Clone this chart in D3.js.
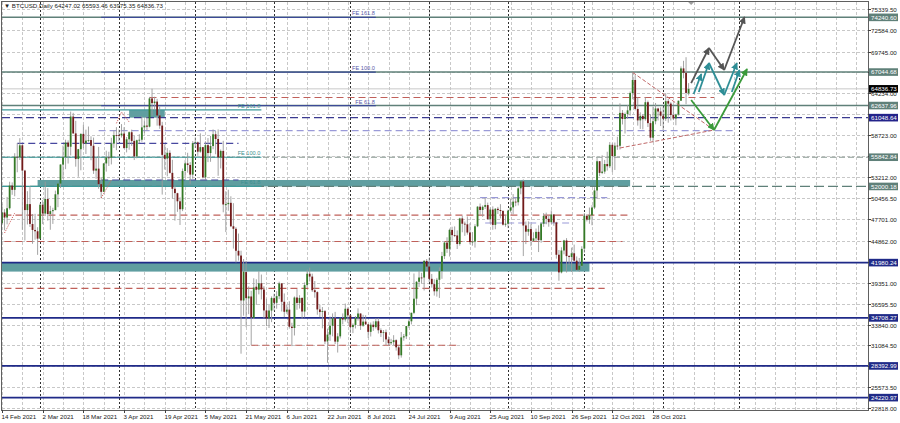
<!DOCTYPE html>
<html><head><meta charset="utf-8">
<script src="https://cdn.jsdelivr.net/npm/d3@7"></script>
<style>
html,body{margin:0;padding:0;background:#fff;}
svg{display:block;font-family:"Liberation Sans",Arial,sans-serif;}
</style></head><body>
<svg id="chart" width="900" height="423"></svg>
<script>
// ---------------- DATA ----------------
const symbolTitle = "BTCUSD,Daily";
const firstDay = "2021-02-14";   // one candle per calendar day
const opens = [
47168,48577,47911,49134,52119,51553,55906,55842,57412,54087,48891,49677,47057,46277,46104,
45134,49596,48436,50349,48374,48747,48882,50959,52375,54874,55851,57773,57221,61188,58976,55605,56900,58912,57641,58030,58100,57351,54083,54342,52303,51293,55025,55817,55777,57635,58746,
58740,58720,58951,57052,58202,59130,57991,55954,58077,58142,59769,60002,59861,63575,62959,63158,61334,60006,56150,55664,56425,53787,51691,51110,50047,49004,54030,55033,54825,53555,
57697,57797,56578,57169,53200,57436,56393,57315,58867,58240,55816,56670,49537,49671,49845,46762,46426,43538,42909,37002,40736,37281,37527,34700,38807,38425,39266,38445,35690,34629,35678,
37293,36694,37568,39246,36829,35517,35796,33556,33380,37389,36677,37331,35546,39020,40516,40143,38349,38099,35820,35483,35600,31614,32510,33676,34664,31577,32283,34702,34494,35911,
35045,33502,33786,34668,35288,33690,34220,33863,32875,33815,33502,34259,33086,32729,32820,31874,31383,31520,31778,30839,29790,32144,32287,33635,34262,35381,37241,39456,40019,40018,42206,
41461,39850,39146,38207,39723,40862,42836,44614,43794,46280,45601,45553,44428,47793,47097,47019,45936,44686,44741,46763,49339,48905,49322,49546,47706,48960,46942,49058,48897,48767,46970,
47100,48810,49246,49999,49918,51756,52666,46868,46048,46395,44843,45173,46025,44941,47103,48121,47737,47300,48315,47261,43016,40694,43574,44895,42840,42717,43208,42236,41034,41565,
43820,48142,47634,48200,49224,51471,55316,53786,53955,54949,54659,57471,55997,57370,57347,61673,60875,61528,62006,64281,66002,62193,60689,61287,60853,63078,60329,58413,60575,62253,61859,
61300,60911,63220,62896,61396,60940,61470,63274,67525,66947,64247.02];
const highs = [
49700,49010,50620,52618,52530,56368,57700,58352,57508,54183,51374,52041,48370,48394,46640,
49790,50200,52640,51773,49448,49200,51450,52402,54895,57387,58150,58058,61844,61683,60633,56938,58982,60100,59468,59880,58589,58430,55830,57200,53230,55073,56700,56559,58400,59368,59800,
59487,60200,59791,58500,59243,59474,58650,58153,58869,61218,60699,61200,63777,64854,63800,63520,62506,60499,57526,57040,56757,55500,52130,51166,50567,54356,55460,56428,55200,57963,
58458,57911,58981,57200,57939,58360,58650,59500,59300,59500,56862,58000,51367,51570,50700,49800,46643,45800,43546,42451,42200,38850,38270,39920,39791,40841,40411,38874,37234,36400,37534,
37896,38225,39476,39289,37925,36480,36900,34068,37534,38491,37689,37429,39380,41064,41330,40528,39559,38200,36457,36137,35750,33298,34881,35298,35500,32700,34749,35297,36600,36100,
35057,33977,34945,35967,35293,35118,35059,33929,34100,34262,34666,34678,33340,33114,33185,32249,31955,32435,31899,31063,32858,32591,33650,34500,35398,40550,39542,40900,40640,42316,42448,
42599,40480,39780,39969,41350,43392,44700,45310,46454,46700,46743,46218,47886,48144,47372,48053,47160,46000,47033,49400,49757,49500,50500,49875,49226,49380,49156,49309,49666,48888,48246,
48950,50400,51000,50558,51900,52780,52920,47381,47400,47036,45970,46460,46880,47250,48500,48557,48150,48843,48372,47347,43639,44000,44978,45200,42972,43950,44350,42787,42590,44132,
48495,48360,49228,49536,51886,55750,55332,56100,55489,56561,57839,57680,57777,58532,62933,62050,61718,62695,64486,67000,66639,63733,61747,61500,63711,63293,61496,62499,62980,62359,62405,
62437,64270,63500,63086,62595,61560,63286,67789,68524,69000,65593.46];
const lows = [
47047,46222,47015,48947,50901,50710,53863,55477,46310,44892,47003,46675,44454,45000,43000,
45115,47047,48100,47500,46300,47070,48882,49275,51789,53005,54272,55013,56078,58963,54600,53271,54123,57023,56270,57820,55450,53650,53000,51700,50427,51280,53950,54691,54900,57072,56770,
57935,58431,56956,56478,56826,57333,55473,55700,57672,57874,59018,59369,59770,61301,62021,60000,59580,50931,54222,53329,53696,50400,47500,48658,46930,48753,53222,53813,52330,53013,
57052,56035,56435,53057,52900,55200,55241,56900,56235,53400,54370,48600,46000,48805,46650,43825,42001,42250,30000,35000,33488,35200,31111,34551,36419,37800,37134,34684,33633,33379,34153,
35666,35920,37170,35555,34800,35258,33300,31000,32396,35782,35936,34600,34757,38730,39506,38116,37365,35129,34803,33336,31251,28805,31683,32286,31275,30151,32000,33862,34225,34017,
32711,32699,33316,34357,33125,33532,33777,32077,32261,33004,33307,32658,32202,31550,31133,31020,31164,31108,30407,29278,29482,31708,31925,33401,33851,35205,36383,38772,39200,38313,41000,
39422,38690,37642,37508,37332,39853,42446,43261,42779,44742,45341,43770,44217,45971,45500,45660,44376,44203,43955,46644,48273,48000,49029,47600,47123,46300,46371,48371,47800,46853,46700,
46512,48585,48316,49400,49500,50969,42843,44412,45513,44132,44743,44742,43370,44594,46682,47021,46699,47087,46829,42500,39600,40565,43069,40675,41675,40750,42098,40888,40753,41410,
43283,47400,47088,46891,49022,50382,53357,53617,53661,54080,54415,53879,54167,56818,56850,60150,58963,60878,61322,63481,62000,60000,59562,59510,60650,59817,58000,57820,60174,60673,59945,
59405,60624,60382,60677,60721,60050,61322,63273,66222,62822,63975.35];
const closes = [
48588,47911,49133,52119,51552,55906,55841,57408,54088,48891,49676,47073,46276,46107,45135,
49587,48440,50349,48374,48751,48882,50971,52375,54884,55851,57773,57221,61188,58968,55605,56900,58913,57648,58030,58102,57351,54083,54340,52303,51293,55025,55817,55777,57635,58746,58740,
58720,58950,57052,58202,59130,57992,55954,58077,58142,59770,60007,59861,63576,62959,63159,61334,60006,56150,55633,56425,53788,51690,51125,50047,49004,54021,55033,54824,53555,57694,
57800,56578,57169,53200,57436,56393,57314,58862,58240,55816,56670,49631,49671,49841,46762,46431,43538,42909,37002,40782,37305,37537,34770,38706,38411,39266,38445,35690,34628,35678,37333,
36693,37568,39246,36829,35514,35796,33552,33380,37389,36675,37331,35546,39020,40516,40144,38349,38092,35819,35483,35600,31608,32509,33678,34663,31594,32283,34700,34494,35911,35045,
33504,33786,34669,35287,33690,34220,33862,32875,33815,33502,34259,33086,32729,32820,31880,31383,31520,31778,30839,29790,32144,32287,33634,34258,35381,37237,39457,40019,40016,42206,41461,
39845,39147,38207,39723,40862,42836,44614,43792,46285,45595,45553,44428,47793,47097,47019,45936,44686,44741,46762,49339,48905,49321,49546,47706,48960,46942,49058,48897,48767,46970,47100,
48810,49246,49999,49915,51756,52663,46863,46048,46395,44850,45173,46025,44941,47111,48121,47737,47300,48314,47261,43012,40693,43574,44896,42840,42717,43208,42236,41034,41564,43790,
48141,47634,48200,49225,51471,55315,53785,53951,54950,54659,57471,55996,57367,57347,61672,60875,61528,62009,64280,66001,62193,60688,61286,60852,63078,60328,58413,60575,62253,61859,61299,
60911,63219,62896,61395,60937,61470,63273,67525,66947,64300,64836.73];

// price axis tick labels (grid at all of them)
const priceTicks = [75339.50,72584.00,69745.00,66989.50,64234.00,61478.50,58723.00,55967.50,53212.00,50456.50,47701.00,44862.00,42106.50,39351.00,36595.50,33840.00,31084.50,28329.00,25573.50,22818.00];
// date axis labels
const dateTicks = ["2021-02-14","2021-03-02","2021-03-18","2021-04-03","2021-04-19","2021-05-05","2021-05-21","2021-06-06","2021-06-22","2021-07-08","2021-07-24","2021-08-09","2021-08-25","2021-09-10","2021-09-26","2021-10-12","2021-10-28"];
// month separators
const monthStarts = ["2021-03-01","2021-04-01","2021-05-01","2021-06-01","2021-07-01","2021-08-01","2021-09-01","2021-10-01","2021-11-01","2021-12-01"];

// horizontal levels (price)
const feLevels = [74240.60, 67044.68, 62637.96];
const feDashLevels = [55842.84, 52000.18];
const pivotLevel = 61048.64;
const supportLevels = [41980.24, 34708.27, 28392.99, 24220.97];
const bidPrice = 64836.73;

// fibo expansions
const fibo1Names = ["FE 161.8","FE 100.0","FE 61.8"];
const fibo1Prices = [74240.60, 67044.68, 62637.96];
const fibo1Range = ["2021-03-25","2021-07-11"];
const fibo2Names = ["FE 161.8","FE 100.0","FE 61.8"];
const fibo2Prices = [62059.5, 55842.84, 52000.18];
const fibo2Range = ["2021-01-20","2021-05-27"];

// zones
const zoneFrom = ["2021-02-28","2021-01-20","2021-04-05"];
const zoneTo   = ["2021-10-19","2021-10-03","2021-04-19"];
const zoneLow  = [52000.18, 40800, 61048.64];
const zoneHigh = [52850, 41980.24, 62059.5];

// short dashed levels
const redDashFrom  = ["2021-04-13","2021-01-20","2021-01-20","2021-01-20","2021-05-23"];
const redDashTo    = ["2021-11-21","2021-10-19","2021-10-16","2021-10-09","2021-08-12"];
const redDashPrice = [63700, 48240, 44760, 38600, 31111];
const blueDashFrom  = ["2021-03-24","2021-02-20","2021-03-25","2021-08-21","2021-08-23"];
const blueDashTo    = ["2021-11-29","2021-05-18","2021-05-18","2021-10-10","2021-09-25"];
const blueDashPrice = [59330, 57674, 52850, 50520, 47190];

// dotted wave marks (date, price)
const waveA = [["2021-02-15",45876],["2021-02-19",48507]];
const waveB = [["2021-03-25",50480],["2021-03-29",52847]];
const waveC = [["2021-03-31",60300],["2021-04-02",61792],["2021-04-05",60477]];

// triangle trend lines
const triUpper = [["2021-10-20",67000],["2021-11-21",59424]];
const triLower = [["2021-10-15",57056],["2021-11-21",59424]];

// projected paths
const greyPath  = [["2021-11-12",65600],["2021-11-19",70210],["2021-11-25",67316],["2021-12-03",74287]];
const tealPathA = [["2021-11-13",64159],["2021-11-16",66790]];
const tealPathB = [["2021-11-15",64420],["2021-11-19",68237],["2021-11-25",64028],["2021-11-30",68237]];
const tealPathC = [["2021-11-28",64420],["2021-12-01",67316]];
const greenPath = [["2021-11-12",63370],["2021-11-21",59424],["2021-12-04",67448]];

// ---------------- CHART ----------------
const W = 900, H = 423;
const L = 2, R = 868, T = 2, B = 410;
const svg = d3.select("#chart");
const parse = d3.utcParse("%Y-%m-%d");
const d0 = parse(firstDay);
const x = d3.scaleUtc().domain([d0, parse("2021-10-28")]).range([2, 653]);
const y = d3.scaleLinear().domain([22818, 75339.5]).range([408.3, 9]);

const candles = closes.map((c,i)=>({d:d3.utcDay.offset(d0,i), o:opens[i], h:highs[i], l:lows[i], c}));

svg.append("rect").attr("width",W).attr("height",H).attr("fill","#fff");
const defs = svg.append("defs");
defs.append("clipPath").attr("id","plot")
  .append("rect").attr("x",L).attr("y",T).attr("width",R-L).attr("height",B-T);
const g = svg.append("g").attr("clip-path","url(#plot)");

// grid
g.append("g").selectAll("line").data(priceTicks).join("line")
  .attr("x1",L).attr("x2",R).attr("y1",d=>Math.round(y(d))+.5).attr("y2",d=>Math.round(y(d))+.5)
  .attr("stroke","#c8c8c8").attr("stroke-dasharray","3,2");
const vgrid = d3.range(0, 400, 8).map(k=>d3.utcDay.offset(d0,k));
g.append("g").selectAll("line").data(vgrid).join("line")
  .attr("x1",d=>Math.round(x(d))+.5).attr("x2",d=>Math.round(x(d))+.5).attr("y1",T).attr("y2",B)
  .attr("stroke","#c8c8c8").attr("stroke-dasharray","3,2");
g.append("g").selectAll("line").data(monthStarts.map(parse)).join("line")
  .attr("x1",d=>Math.round(x(d))+.5).attr("x2",d=>Math.round(x(d))+.5).attr("y1",T).attr("y2",B)
  .attr("stroke","#303030").attr("stroke-dasharray","2,2");

// zones
g.append("g").selectAll("rect").data(zoneFrom.map((f,i)=>i)).join("rect")
  .attr("x",i=>x(parse(zoneFrom[i]))).attr("width",i=>x(parse(zoneTo[i]))-x(parse(zoneFrom[i])))
  .attr("y",i=>y(zoneHigh[i])).attr("height",i=>y(zoneLow[i])-y(zoneHigh[i]))
  .attr("fill","#5f9ea0");

const TEALGREY = "#5f8079", NAVY = "#1f2a88";
function hline(p, color, dash, w){
  g.append("line").attr("x1",L).attr("x2",R).attr("y1",y(p)).attr("y2",y(p))
   .attr("stroke",color).attr("stroke-width",w||1.3).attr("stroke-dasharray",dash||null);
}
feLevels.forEach(p=>hline(p,TEALGREY,null,1.5));
hline(feDashLevels[0],"#8a9a94","6,3",1.2);
hline(feDashLevels[1],TEALGREY,"10,4",1.2);
hline(pivotLevel,"#3a3a90","8,4",1.2);
supportLevels.forEach(p=>hline(p,NAVY,null,1.6));
hline(bidPrice,"#c8c8c8",null,1);

function seg(from,to,p,color,dash){
  g.append("line").attr("x1",x(parse(from))).attr("x2",x(parse(to))).attr("y1",y(p)).attr("y2",y(p))
   .attr("stroke",color).attr("stroke-width",1.2).attr("stroke-dasharray",dash);
}
redDashPrice.forEach((p,i)=>seg(redDashFrom[i],redDashTo[i],p,"#c0605a","7,4"));
blueDashPrice.forEach((p,i)=>seg(blueDashFrom[i],blueDashTo[i],p,i===1||i===2?"#4848a0":"#9a9ad8","7,4"));

function fibo(names, prices, range, color, textColor){
  const x1 = x(parse(range[0])), x2 = x(parse(range[1]));
  prices.forEach((p,i)=>{
    g.append("line").attr("x1",x1).attr("x2",x2).attr("y1",y(p)).attr("y2",y(p))
      .attr("stroke",color).attr("stroke-width",1.2);
    g.append("text").attr("x",x2-1).attr("y",y(p)-2).attr("text-anchor","end")
      .attr("font-size",5.6).attr("fill",textColor).text(names[i]);
  });
}
fibo(fibo1Names, fibo1Prices, fibo1Range, "#3c4a96", "#5a5aa8");
fibo(fibo2Names, fibo2Prices, fibo2Range, "#3d9a9a", "#3d8f8f");

// candles
const cg = g.append("g");
cg.selectAll("line").data(candles).join("line")
  .attr("x1",d=>x(d.d)).attr("x2",d=>x(d.d)).attr("y1",d=>y(d.h)).attr("y2",d=>y(d.l))
  .attr("stroke","#9a9a9a").attr("stroke-width",0.9);
cg.selectAll("rect").data(candles).join("rect")
  .attr("x",d=>x(d.d)-0.9).attr("width",1.8)
  .attr("y",d=>y(Math.max(d.o,d.c))).attr("height",d=>Math.max(0.8,Math.abs(y(d.o)-y(d.c))))
  .attr("fill",d=>d.c>=d.o?"#347a26":"#721a1a");

function pline(pts,color,dash,w){
  g.append("path").attr("d",d3.line().x(p=>x(parse(p[0]))).y(p=>y(p[1]))(pts))
   .attr("fill","none").attr("stroke",color).attr("stroke-width",w).attr("stroke-dasharray",dash);
}
pline(triUpper,"#c06868","4,2",1);
pline(triLower,"#c06868","4,2",1);
[waveA,waveB,waveC].forEach(w=>pline(w,"#d06060","1.2,1.2",1));

// arrows
[["ag","#555555"],["at","#2f8e96"],["agr","#3a9a3a"]].forEach(([id,c])=>{
  defs.append("marker").attr("id",id).attr("viewBox","0 0 10 10").attr("refX",9).attr("refY",5)
    .attr("markerWidth",4).attr("markerHeight",4).attr("orient","auto")
    .append("path").attr("d","M0,0L10,5L0,10z").attr("fill",c);
});
function arrows(pts,color,mid){
  for(let i=0;i<pts.length-1;i++){
    g.append("line").attr("x1",x(parse(pts[i][0]))).attr("y1",y(pts[i][1]))
      .attr("x2",x(parse(pts[i+1][0]))).attr("y2",y(pts[i+1][1]))
      .attr("stroke",color).attr("stroke-width",1.8).attr("marker-end",`url(#${mid})`);
  }
}
arrows(greyPath,"#555555","ag");
arrows(tealPathA,"#2f8e96","at");
arrows(tealPathB,"#2f8e96","at");
arrows(tealPathC,"#2f8e96","at");
arrows(greenPath,"#3a9a3a","agr");

// chart shift marker
const sx = x(parse("2021-11-12"));
svg.append("path").attr("d",d3.line()([[sx-3,T],[sx+3,T],[sx,T+3]])).attr("fill","#a0a0a0");

// frame
svg.append("rect").attr("x",L-.5).attr("y",T-.5).attr("width",R-L+1).attr("height",B-T+1)
  .attr("fill","none").attr("stroke","#606060").attr("stroke-width",1);

// price axis
const tagPrices = feLevels.concat(feDashLevels,[pivotLevel],supportLevels,[bidPrice]);
const pa = svg.append("g").attr("font-size",6.2).attr("fill","#202020");
priceTicks.forEach(p=>{
  const yy=Math.round(y(p))+.5;
  pa.append("line").attr("x1",R).attr("x2",R+3).attr("y1",yy).attr("y2",yy).attr("stroke","#404040");
  // labels fully hidden under a price tag are not written
  const hidden = tagPrices.some(t=>Math.abs(y(t)-y(p))<4 && t!==bidPrice);
  if(!hidden) pa.append("text").attr("x",871).attr("y",yy+2.2).text(d3.format(".2f")(p));
});
function tag(p,bg){
  const yy=y(p);
  svg.append("rect").attr("x",869).attr("y",yy-3.8).attr("width",29).attr("height",7.6).attr("fill",bg);
  svg.append("text").attr("x",871).attr("y",yy+2.2).attr("font-size",6.2).attr("fill","#fff").text(d3.format(".2f")(p));
}
feLevels.forEach(p=>tag(p,TEALGREY));
feDashLevels.forEach(p=>tag(p,TEALGREY));
tag(pivotLevel,"#23238a");
supportLevels.forEach(p=>tag(p,NAVY));
tag(bidPrice,"#000");

// date axis
const fmt = d3.utcFormat("%-d %b %Y");
const da = svg.append("g").attr("font-size",6.2).attr("fill","#202020");
dateTicks.map(parse).forEach(d=>{
  const xx=Math.round(x(d))+.5;
  da.append("line").attr("x1",xx).attr("x2",xx).attr("y1",B).attr("y2",B+3).attr("stroke","#404040");
  da.append("text").attr("x",xx-1).attr("y",B+8.5).text(fmt(d));
});

// header
svg.append("text").attr("x",4).attr("y",8).attr("font-size",6.2).attr("fill","#202020")
  .text("\u25BC " + symbolTitle + "  " + [opens,highs,lows,closes].map(a=>d3.format(".2f")(a[a.length-1])).join(" "));
</script>
</body></html>
